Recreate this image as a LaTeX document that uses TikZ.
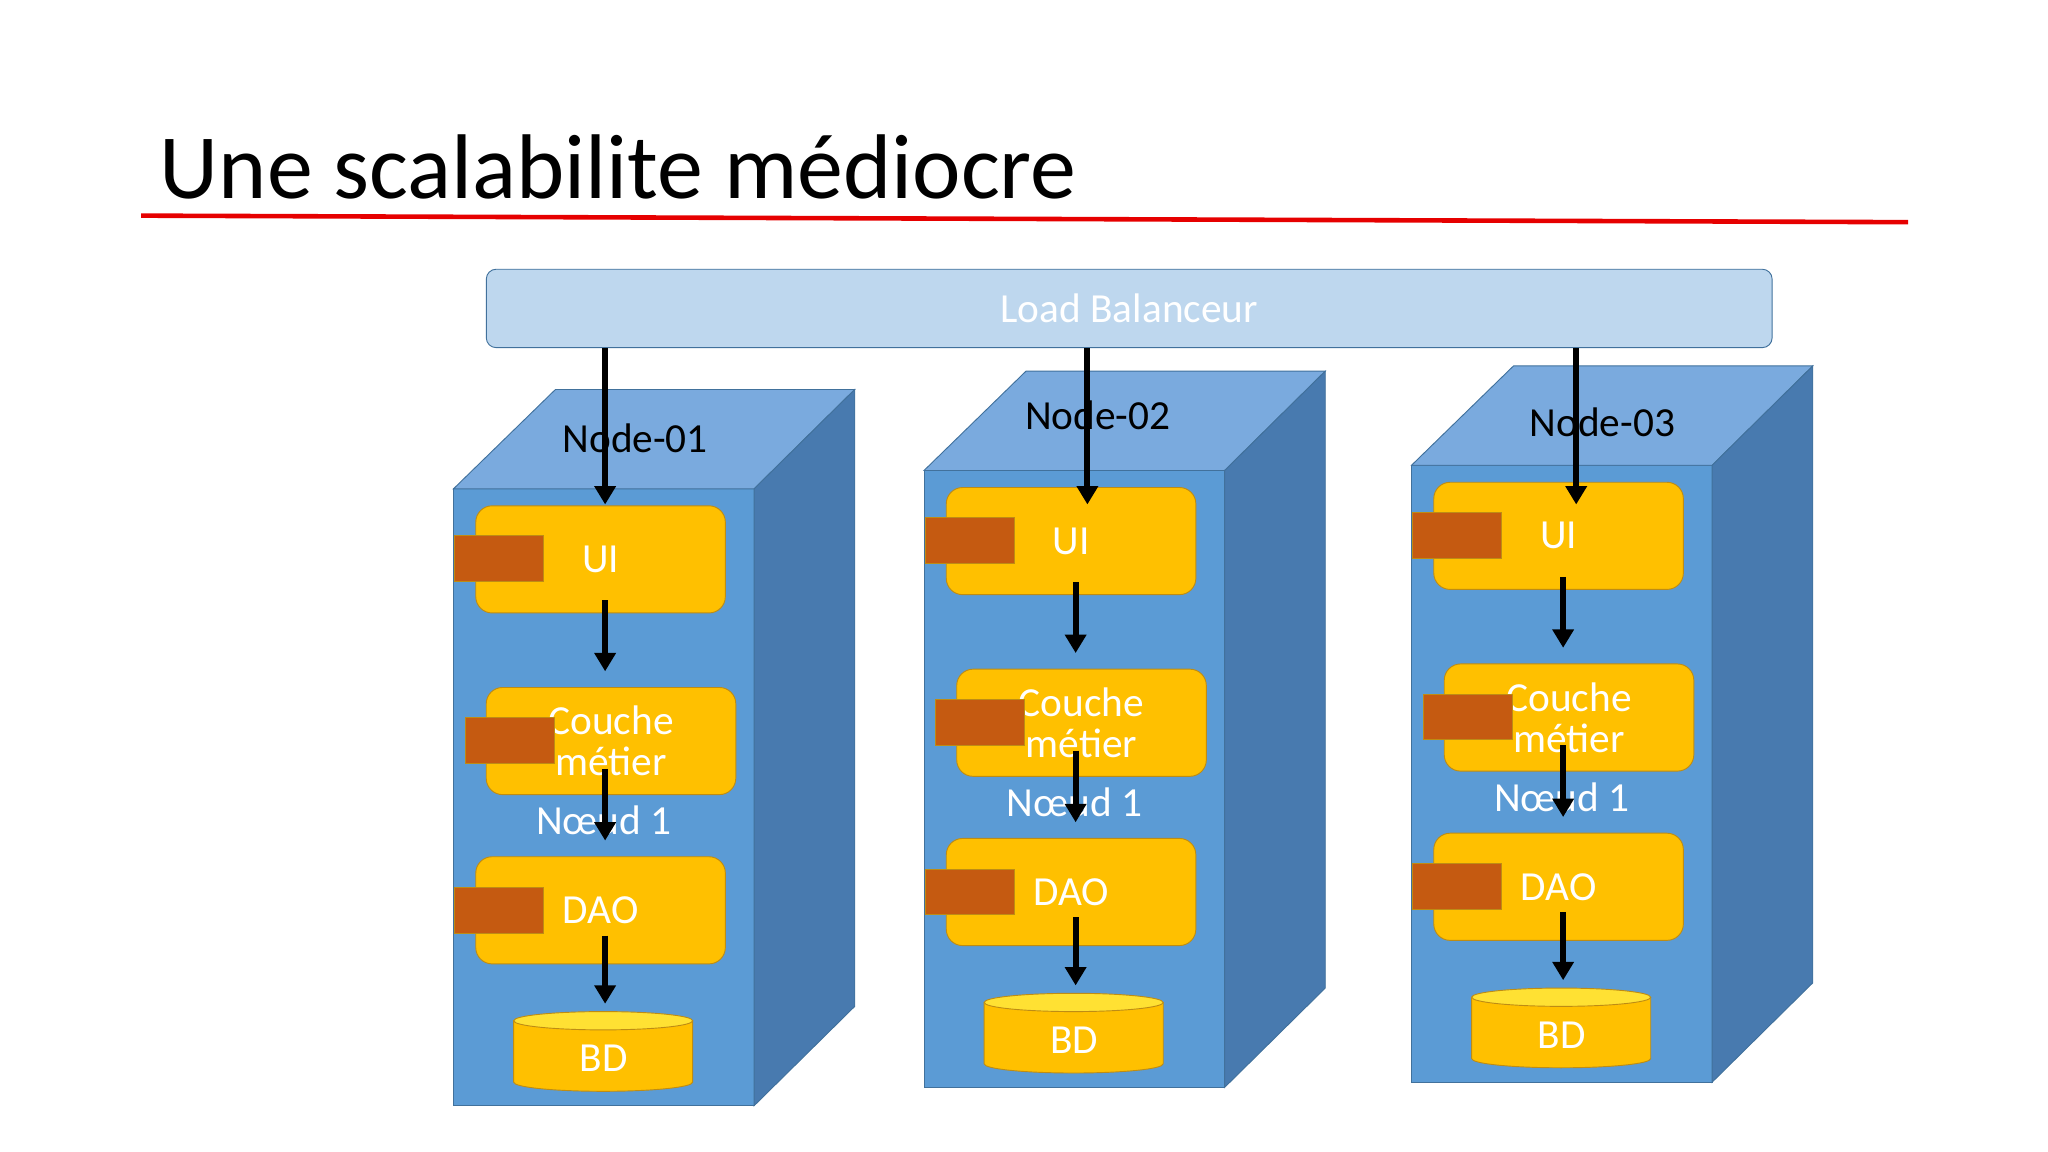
\documentclass[tikz,border=0pt]{standalone}
\usepackage{fontspec}
\setmainfont{Carlito}
\usetikzlibrary{positioning, calc, arrows.meta}
\definecolor{lbfill}{RGB}{190,215,238}
\definecolor{bleu}{RGB}{65,113,156}
\definecolor{front}{RGB}{91,155,213}
\definecolor{toit}{RGB}{122,170,222}
\definecolor{cote}{RGB}{72,122,175}
\definecolor{jaune}{RGB}{255,192,0}
\definecolor{jbord}{RGB}{190,140,20}
\definecolor{brique}{RGB}{197,90,17}
\definecolor{rouge}{RGB}{230,0,0}

\tikzset{
  comp/.style={draw=jbord, fill=jaune, minimum width=3.82cm, minimum height=1.64cm,
    rounded corners=0.25cm, text=white, font=\fontsize{18}{20}\selectfont, align=center},
  port/.style={draw=jbord, fill=brique, minimum width=1.36cm, minimum height=0.7cm, inner sep=0},
  arr/.style={line width=2.6pt, -{Triangle[length=8pt,width=9pt]}},
  lbl/.style={font=\fontsize{18}{20}\selectfont}
}

\begin{document}
\begin{tikzpicture}[x=0.02cm, y=-0.02cm]
    \useasboundingbox (0,0) rectangle (1567,881);

    % titre
    \node[anchor=base west, inner sep=0, font=\fontsize{40}{44}\selectfont] (titre) at (122,152) {Une scalabilite médiocre};
    \draw[rouge, line width=2pt] (108,165) -- (1460,170);

    % load balancer
    \node[draw=bleu, fill=lbfill, rounded corners=0.15cm, minimum width=19.68cm, minimum height=1.2cm,
      text=white, font=\fontsize{18}{20}\selectfont] (lb) at (864,236) {Load Balanceur};

    \foreach \i/\dx/\dy/\lx/\name/\tx/\ty in {1/0/0/463/Node-01/486/335, 2/360/-14/832/Node-02/840/318, 3/733/-18/1206/Node-03/1226/323} {
      \begin{scope}[shift={(\dx,\dy)}]
        % boite 3D
        \draw[bleu, fill=front] (347,374) rectangle (577,846);
        \draw[bleu, fill=toit] (347,374) -- (425,298) -- (654,298) -- (577,374) -- cycle;
        \draw[bleu, fill=cote] (577,374) -- (654,298) -- (654,770) -- (577,846) -- cycle;

        % couches
        \node[comp] (ui\i) at (459.5,428) {UI};
        \node[port] (pui\i) at (382,427.5) {};
        \node[comp] (cm\i) at (467.5,567) {Couche\\[-2pt]métier};
        \node[port] (pcm\i) at (390,566.5) {};
        \node[lbl, text=white] (nd\i) at (462,628) {Nœud 1};
        \node[comp] (dao\i) at (459.5,696.5) {DAO};
        \node[port] (pdao\i) at (382,696.5) {};

        % base de donnees
        \fill[jaune] (393,781) -- (393,828) arc[start angle=180, end angle=0, x radius=68.5, y radius=7] -- (530,781) -- cycle;
        \draw[jbord] (393,781) -- (393,828) arc[start angle=180, end angle=0, x radius=68.5, y radius=7] -- (530,781);
        \draw[jbord, fill=jaune!60!yellow!80!white] (461.5,781) ellipse[x radius=68.5, y radius=7];
        \node[lbl, text=white] (bd\i) at (462,810) {BD};
        \coordinate (x\i) at (463,0);
      \end{scope}
      \node[lbl] (t\i) at (\tx,\ty) {\name};
      \coordinate (e\i) at (\lx,386);
      \coordinate (a\i) at ($(ui\i.south -| x\i)+(0,-10)$);
      \coordinate (b\i) at ($(cm\i.north -| x\i)+(0,-12)$);
      \coordinate (c\i) at ($(cm\i.south -| x\i)+(0,-20)$);
      \coordinate (d\i) at ($(dao\i.north -| x\i)+(0,-12)$);
      \coordinate (f\i) at ($(dao\i.south -| x\i)+(0,-22)$);
      \coordinate (g\i) at ($(bd\i.center -| x\i)+(0,-42)$);

      \draw[arr] (lb.south -| e\i) -- (e\i);
      \draw[arr] (a\i) -- (b\i);
      \draw[arr] (c\i) -- (d\i);
      \draw[arr] (f\i) -- (g\i);
    }
\end{tikzpicture}
\end{document}
